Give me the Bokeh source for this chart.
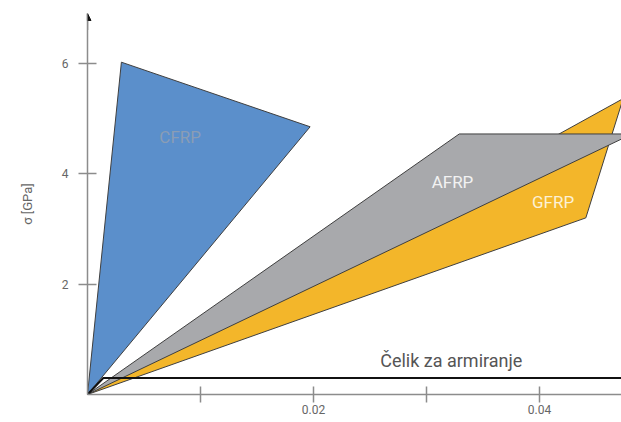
from bokeh.plotting import figure
from bokeh.models import Range1d, FixedTicker, Arrow, NormalHead
from bokeh.core.properties import value
from bokeh.embed import file_html
from bokeh.resources import INLINE

# ---- data (strain [-], stress [GPa]) ----
cfrp_eps = [0.0, 0.0030, 0.0197]
cfrp_sig = [0.0, 6.02, 4.85]

afrp_eps = [0.0, 0.0329, 0.0482]
afrp_sig = [0.0, 4.72, 4.72]

gfrp_eps = [0.0, 0.0474, 0.0441]
gfrp_sig = [0.0, 5.36, 3.20]

steel_eps = [0.0, 0.0014, 0.050]
steel_sig = [0.0, 0.30, 0.30]

x_ticks = [0.01, 0.02, 0.03, 0.04]
x_tick_labels = {0.01: "", 0.02: "0.02", 0.03: "", 0.04: "0.04"}
y_ticks = [2, 4, 6]

label_names = ["CFRP", "AFRP", "GFRP"]
label_eps = [0.0082, 0.0323, 0.0412]
label_sig = [4.66, 3.85, 3.49]
steel_label = "Čelik za armiranje"
steel_label_pos = (0.0259, 0.62)

FONT = "Roboto"
AXIS_COL = "#8c8c8c"
TXT_COL = "#666666"
EDGE = "#3f3f3f"

W, H = 621, 422
LEFT, TOP, BOTTOM = 87, 13, 28
PX_X = 11300.0   # pixels per unit strain
PX_Y = 55.2      # pixels per GPa

p = figure(width=W, height=H, output_backend="svg", toolbar_location=None,
           x_range=Range1d(0, (W - LEFT) / PX_X), y_range=Range1d(0, (H - TOP - BOTTOM) / PX_Y),
           min_border_left=LEFT, min_border_right=0, min_border_top=TOP, min_border_bottom=BOTTOM)
p.grid.visible = False
p.outline_line_color = None
p.background_fill_color = "white"
p.border_fill_color = "white"

# x axis
xa = p.xaxis[0]
xa.ticker = FixedTicker(ticks=x_ticks)
xa.major_label_overrides = x_tick_labels
xa.axis_line_color = AXIS_COL
xa.axis_line_width = 1.5
xa.major_tick_line_color = AXIS_COL
xa.major_tick_line_width = 1.5
xa.major_tick_in = 8
xa.major_tick_out = 8
xa.minor_tick_line_color = None
xa.major_label_standoff = 2
xa.major_label_text_font = FONT
xa.major_label_text_font_size = "12px"
xa.major_label_text_color = TXT_COL

# y axis
ya = p.yaxis[0]
ya.ticker = FixedTicker(ticks=y_ticks)
ya.axis_line_color = AXIS_COL
ya.axis_line_width = 1.5
ya.major_tick_line_color = AXIS_COL
ya.major_tick_line_width = 1.5
ya.major_tick_in = 9
ya.major_tick_out = 9
ya.minor_tick_line_color = None
ya.major_label_standoff = 10
ya.major_label_text_font = FONT
ya.major_label_text_font_size = "12px"
ya.major_label_text_color = TXT_COL
ya.axis_label = "σ [GPa]"
ya.axis_label_text_font = FONT
ya.axis_label_text_font_style = "normal"
ya.axis_label_text_font_size = "13px"
ya.axis_label_text_color = TXT_COL
ya.axis_label_standoff = 24

# polygons
p.patch(cfrp_eps, cfrp_sig, fill_color="#5b8fcb", line_color=EDGE, line_width=1)
p.patch(gfrp_eps, gfrp_sig, fill_color="#f3b62a", line_color=EDGE, line_width=1)
p.patch(afrp_eps, afrp_sig, fill_color="#a8a9ac", line_color=EDGE, line_width=1)

# steel
p.line(steel_eps, steel_sig, line_color="#111111", line_width=2)

# labels
p.text(x=label_eps[:1], y=label_sig[:1], text=label_names[:1], text_color="#8a9db5",
       text_font=value(FONT), text_font_size="17px", text_align="center", text_baseline="middle")
p.text(x=label_eps[1:], y=label_sig[1:], text=label_names[1:], text_color=["#f2f2f2", "#fdf1d6"],
       text_font=value(FONT), text_font_size="17px", text_align="center", text_baseline="middle")
p.text(x=[steel_label_pos[0]], y=[steel_label_pos[1]], text=[steel_label], text_color="#555555",
       text_font=value(FONT), text_font_size="18px", text_align="left", text_baseline="middle")

# arrow head at top of y axis
y_top = (H - TOP - BOTTOM) / PX_Y
p.add_layout(Arrow(end=NormalHead(size=7, fill_color="#111111", line_color="#111111"),
                   x_start=0, y_start=y_top - 0.3, x_end=0, y_end=y_top,
                   line_color=AXIS_COL, line_width=1.5))

open("out.html", "w").write(file_html(p, INLINE))
